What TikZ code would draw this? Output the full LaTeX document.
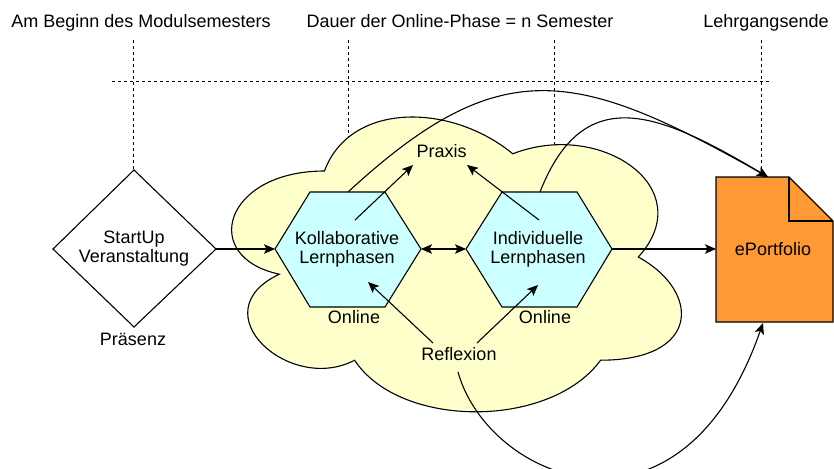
\documentclass[tikz,border=0pt]{standalone}
\usepackage{fontspec}
\setmainfont{Liberation Sans}
\usetikzlibrary{arrows.meta}
\definecolor{cloudfill}{HTML}{FFFFCC}
\definecolor{hexfill}{HTML}{CCFFFF}
\definecolor{portfill}{HTML}{FF9933}
\begin{document}
\begin{tikzpicture}[x=1pt,y=-1pt,
  lbl/.style={font=\fontsize{18}{19}\selectfont, inner sep=0pt, align=center},
  ln/.style={line width=1.1pt, draw=black},
  arr/.style={ln, -{Stealth[length=11pt,width=9.5pt,inset=2.5pt]}},
  biarr/.style={ln, {Stealth[length=11pt,width=9.5pt,inset=2.5pt]}-{Stealth[length=11pt,width=9.5pt,inset=2.5pt]}},
  guide/.style={line width=0.9pt, dash pattern=on 3pt off 3pt},
  shapeline/.style={line width=1.1pt, draw=black, line join=miter}]
\useasboundingbox (0,0) rectangle (834,468);
\clip (0,0) rectangle (834,468);
\fill[white] (0,0) rectangle (834,468);

% top labels
\node[lbl, anchor=base] (tl1) at (141,28) {Am Beginn des Modulsemesters};
\node[lbl, anchor=base] (tl2) at (460,28) {Dauer der Online-Phase = n Semester};
\node[lbl, anchor=base] (tl3) at (766,28) {Lehrgangsende};

% guide lines
\coordinate (g1t) at (133,40);  \coordinate (g1b) at (133,170);
\coordinate (g2t) at (348,40);  \coordinate (g2b) at (348,145);
\coordinate (g3t) at (554,40);  \coordinate (g3b) at (554,145);
\coordinate (g4t) at (761,40);  \coordinate (g4b) at (761,177);
\coordinate (ghl) at (112,81);  \coordinate (ghr) at (772,81);
\draw[guide] (g1t) -- (g1b);
\draw[guide] (g2t) -- (g2b);
\draw[guide] (g3t) -- (g3b);
\draw[guide] (g4t) -- (g4b);
\draw[guide] (ghl) -- (ghr);

% cloud
\draw[shapeline, fill=cloudfill]
  (324.5,171) .. controls (224.1,171) and (199,257) .. (279.3,274.2)
  .. controls (199,312) and (289.4,394.6) .. (354.6,360.2)
  .. controls (399.8,429) and (550.4,429) .. (600.6,360.2)
  .. controls (701,360.2) and (701,291.4) .. (638.3,257)
  .. controls (701,188.2) and (600.6,119.4) .. (512.8,153.8)
  .. controls (450,102.2) and (349.6,102.2) .. (324.5,171) -- cycle;

% diamond
\draw[shapeline, fill=white] (134,170) -- (216,249) -- (134,327) -- (53,249) -- cycle;
\node[lbl] (start) at (134,249) {StartUp\\Veranstaltung};
\node[lbl, anchor=base] (praes) at (133,345) {Präsenz};
\coordinate (startR) at (216,249);

% hexagons
\draw[shapeline, fill=hexfill] (275,249) -- (310,192) -- (385,192) -- (421,249) -- (385,307) -- (310,307) -- cycle;
\draw[shapeline, fill=hexfill] (466,249) -- (502,192) -- (577,192) -- (612,249) -- (577,307) -- (502,307) -- cycle;
\node[lbl] (koll) at (347,249) {Kollaborative\\Lernphasen};
\node[lbl] (indi) at (538,249) {Individuelle\\Lernphasen};
\coordinate (kollL) at (275,249);
\coordinate (kollR) at (421,249);
\coordinate (indiL) at (466,249);
\coordinate (indiR) at (612,249);
\coordinate (kollT) at (348,192);
\coordinate (indiT) at (540,192);
\coordinate (kollIn) at (355,220);
\coordinate (indiIn) at (539,220);
\coordinate (kollLow) at (368,282);
\coordinate (indiLow) at (538,285);
\node[lbl, anchor=base] (onl1) at (354,323) {Online};
\node[lbl, anchor=base] (onl2) at (545,323) {Online};

% Praxis / Reflexion
\node[lbl, anchor=base] (praxis) at (441.5,157) {Praxis};
\coordinate (praxL) at (413,165);
\coordinate (praxR) at (467,165);
\node[lbl, anchor=base] (refl) at (459,360) {Reflexion};
\coordinate (reflL) at (433,343);
\coordinate (reflR) at (477,343);
\coordinate (reflB) at (458,372);

% ePortfolio
\draw[shapeline, fill=portfill] (716,177) -- (789,177) -- (833,221) -- (833,322) -- (716,322) -- cycle;
\draw[shapeline] (789,177) -- (789,221) -- (833,221);
\node[lbl, anchor=base] (port) at (773,255) {ePortfolio};
\coordinate (portL) at (716,249);
\coordinate (portT) at (768,177);
\coordinate (portB) at (763,323);

% connectors
\draw[arr] (startR) -- (kollL);
\draw[biarr] (kollR) -- (indiL);
\draw[arr] (indiR) -- (portL);
\draw[arr] (kollIn) -- (praxL);
\draw[arr] (indiIn) -- (praxR);
\draw[arr] (reflL) -- (kollLow);
\draw[arr] (reflR) -- (indiLow);
\draw[arr] (kollT) .. controls (500,52) and (575,68) .. (portT);
\draw[arr] (indiT) .. controls (584,80) and (660,113) .. (portT);
\draw[arr] (reflB) .. controls (488,480) and (680,560) .. (portB);
\end{tikzpicture}
\end{document}
